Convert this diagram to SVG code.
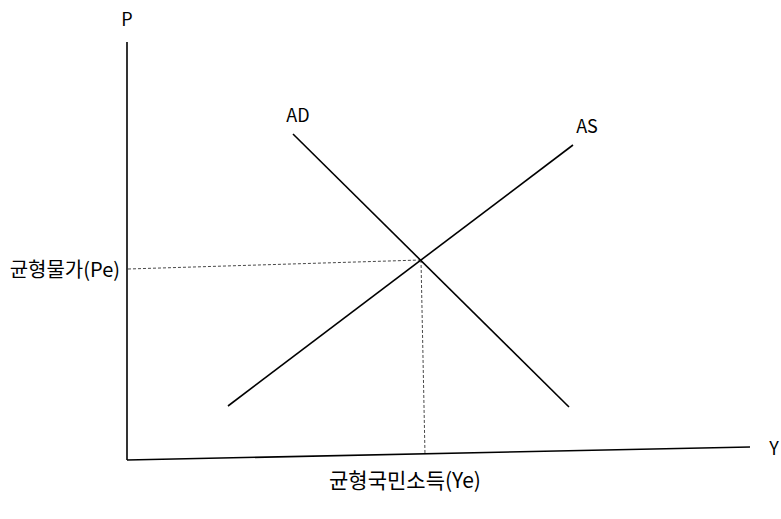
<svg xmlns="http://www.w3.org/2000/svg" width="781" height="519" viewBox="0 0 781 519">
<style>
.lbl{font-family:"Noto Sans CJK KR","Noto Sans",sans-serif;font-size:18px;fill:#000}
.kr{font-size:20px}
.kr2{font-size:21px}
.ax{stroke:#000;stroke-width:1.6;fill:none}
.curve{stroke:#000;stroke-width:1.6;fill:none}
.dash{stroke:#333;stroke-width:0.9;stroke-dasharray:3,2;fill:none}
</style>
<rect width="781" height="519" fill="#fff"/>
<g id="axes">
<line class="ax" x1="127" y1="42" x2="127" y2="460"/>
<line class="ax" x1="127" y1="460" x2="750" y2="447"/>
<text class="lbl" x="127" y="26" text-anchor="middle">P</text>
<text class="lbl" x="774" y="455" text-anchor="middle">Y</text>
</g>
<g id="connectors">
<line class="dash" x1="128" y1="269" x2="421" y2="260"/>
<line class="dash" x1="421" y1="260" x2="425" y2="455"/>
</g>
<g id="AD">
<line class="curve" x1="293" y1="134" x2="569" y2="407"/>
<text class="lbl" x="298" y="122" text-anchor="middle">AD</text>
</g>
<g id="AS">
<line class="curve" x1="228" y1="406" x2="573" y2="145"/>
<text class="lbl" x="587" y="133" text-anchor="middle">AS</text>
</g>
<g id="Pe">
<text class="lbl kr" x="120" y="277" text-anchor="end">균형물가(Pe)</text>
</g>
<g id="Ye">
<text class="lbl kr2" x="405" y="488" text-anchor="middle">균형국민소득(Ye)</text>
</g>
</svg>
